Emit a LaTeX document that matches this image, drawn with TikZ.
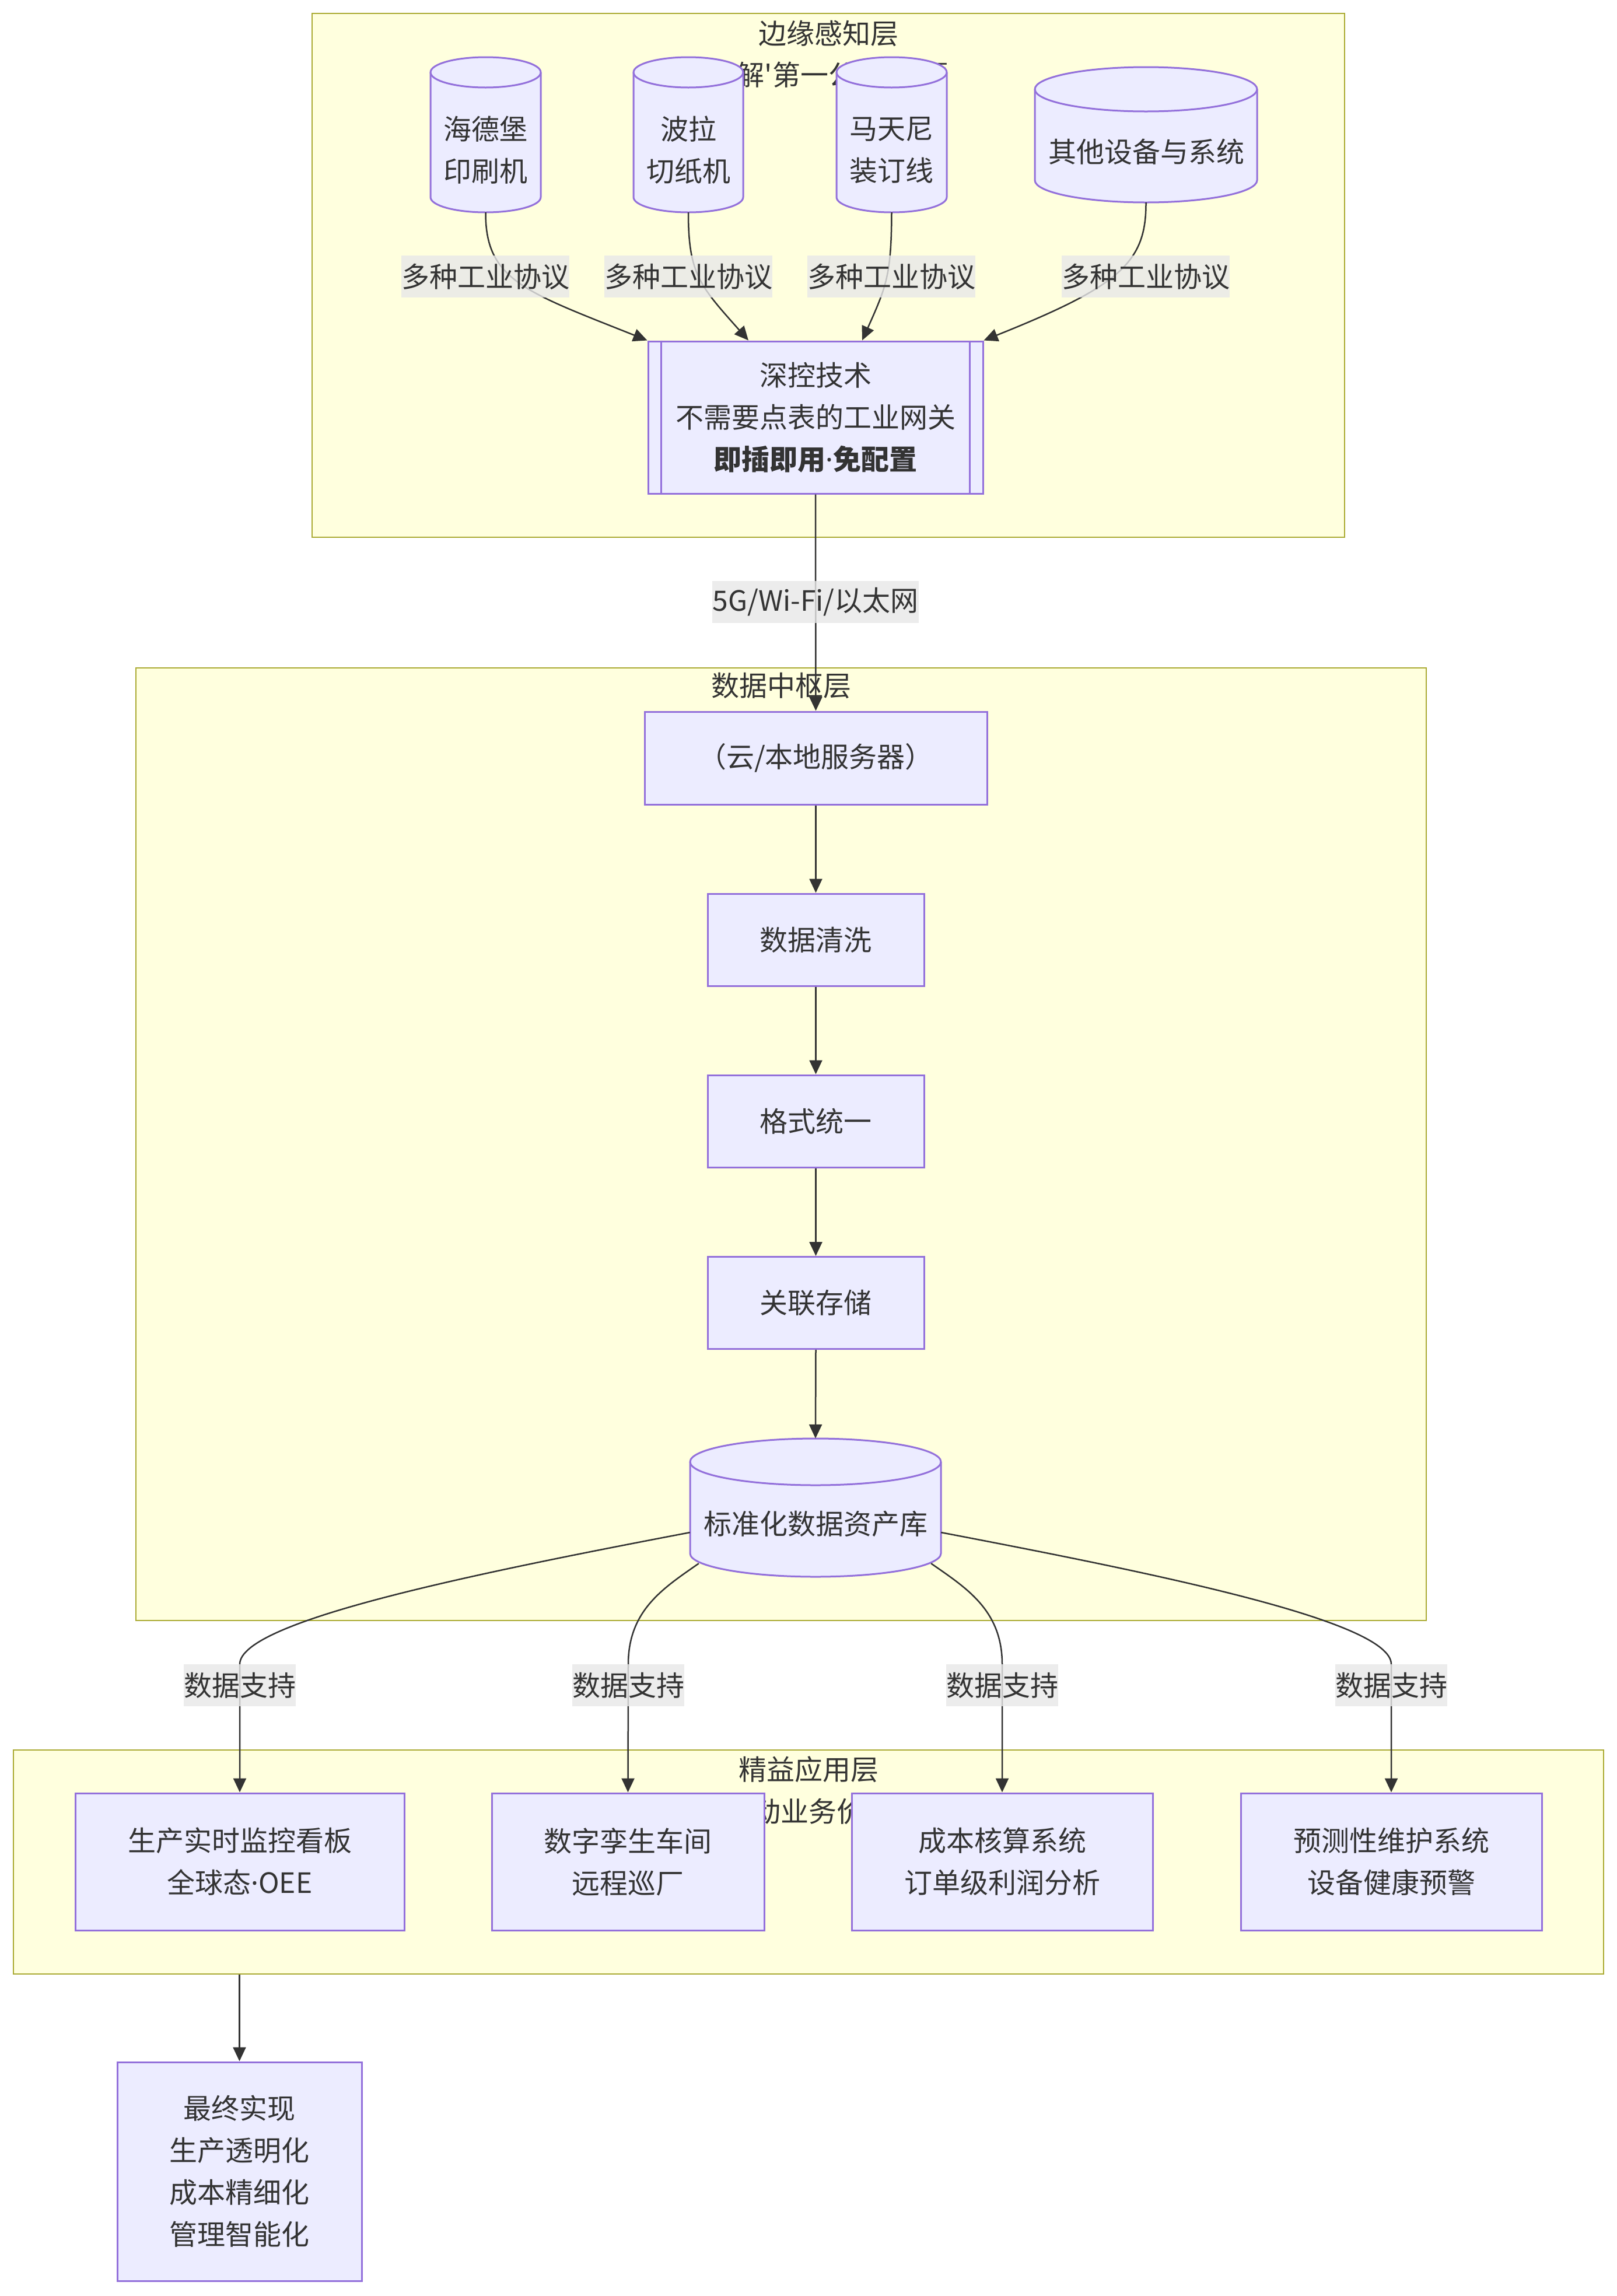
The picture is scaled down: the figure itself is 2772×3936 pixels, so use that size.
\documentclass[tikz,border=0pt]{standalone}
\usepackage{fontspec}
\setmainfont{Noto Sans CJK SC}
\newfontfamily\cjk{Noto Sans CJK SC}
\newfontfamily\latinf{Noto Sans}
\newcommand\mdot{{\latinf ·}}
\usetikzlibrary{arrows.meta,calc}
\definecolor{nodefill}{HTML}{ECECFF}
\definecolor{nodeline}{HTML}{9370DB}
\definecolor{clfill}{HTML}{FFFFDE}
\definecolor{clline}{HTML}{AAAA33}
\definecolor{ink}{HTML}{333333}
\definecolor{lblbg}{HTML}{E8E8E8}
\tikzset{
  txt/.style={font=\cjk\fontsize{48}{72}\selectfont, text=ink, align=center, inner sep=0pt},
  cluster/.style={draw=clline, fill=clfill, line width=2.5pt, inner sep=0pt},
  box/.style={txt, draw=nodeline, fill=nodefill, line width=3pt},
  lbl/.style={txt, fill=lblbg, fill opacity=0.8, text opacity=1, minimum height=72pt},
  edge/.style={draw=ink, line width=2.5pt, -{Triangle[length=24pt,width=22pt]}},
}
\newcommand\dbcyl[6]{%
  \filldraw[draw=nodeline, fill=nodefill, line width=3pt]
    (#2,-#4-#6) -- (#2,-#5+#6)
    arc[start angle=180, end angle=360, x radius={(#3-#2)/2}, y radius=#6]
    -- (#3,-#4-#6)
    arc[start angle=0, end angle=180, x radius={(#3-#2)/2}, y radius=#6] -- cycle;
  \draw[draw=nodeline, line width=3pt] (#2,-#4-#6)
    arc[start angle=180, end angle=360, x radius={(#3-#2)/2}, y radius=#6];
  \node[inner sep=0pt, minimum width={(#3-#2)*1pt}, minimum height={(#5-#4)*1pt}] (#1) at ({(#2+#3)/2},{-(#4+#5)/2}) {};
}
\begin{document}
\begin{tikzpicture}[x=1pt,y=1pt]
\fill[white] (0,0) rectangle (2772,-3936);
\useasboundingbox (0,0) rectangle (2772,-3936);

% clusters
\node[cluster, minimum width=1770pt, minimum height=898pt] (C1) at (1420,-472) {};
\node[cluster, minimum width=2212pt, minimum height=1633pt] (C2) at (1339,-1961.5) {};
\node[cluster, minimum width=2726pt, minimum height=384pt] (C3) at (1386,-3192) {};

% cluster titles
\node[txt] (t1) at (1420,-57) {边缘感知层};
\node[txt] (s1) at (1420,-128) {破解'第一公里'难题};
\node[txt] (t2) at (1339,-1175) {数据中枢层};
\node[txt] (t3) at (1386,-3033) {精益应用层};
\node[txt] (s3) at (1386,-3105) {驱动业务价值};

% edge layer: devices
\dbcyl{c1}{738}{927}{98}{364}{26}
\dbcyl{c2}{1086}{1274}{98}{364}{26}
\dbcyl{c3}{1434}{1623}{98}{364}{26}
\dbcyl{c4}{1774}{2155}{115}{347}{38}
\node[txt] (c1t) at (832,-257.5) {海德堡\\印刷机};
\node[txt] (c2t) at (1180,-257.5) {波拉\\切纸机};
\node[txt] (c3t) at (1528,-257.5) {马天尼\\装订线};
\node[txt] (c4t) at (1965,-260) {其他设备与系统};

\node[box, minimum width=574pt, minimum height=261pt] (gw) at (1398,-715.5)
  {深控技术\\不需要点表的工业网关\\\textbf{即插即用{\bfseries\mdot}免配置}};
\draw[nodeline, line width=3pt] ([xshift=24pt]gw.north west) -- ([xshift=24pt]gw.south west);
\draw[nodeline, line width=3pt] ([xshift=-24pt]gw.north east) -- ([xshift=-24pt]gw.south east);

% data hub
\node[box, minimum width=587pt, minimum height=159pt] (srv) at (1398.5,-1299.5) {（云/本地服务器）};
\node[box, minimum width=371pt, minimum height=158pt] (clean) at (1398.5,-1611) {数据清洗};
\node[box, minimum width=371pt, minimum height=158pt] (fmt) at (1398.5,-1922) {格式统一};
\node[box, minimum width=371pt, minimum height=158pt] (store) at (1398.5,-2233.5) {关联存储};
\dbcyl{db}{1183}{1613}{2466}{2703}{40}
\node[txt] (dbt) at (1398,-2612) {标准化数据资产库};

% applications
\node[box, minimum width=564pt, minimum height=235pt] (a1) at (411,-3191.5) {生产实时监控看板\\全球态\mdot OEE};
\node[box, minimum width=467pt, minimum height=235pt] (a2) at (1076.5,-3191.5) {数字孪生车间\\远程巡厂};
\node[box, minimum width=516pt, minimum height=235pt] (a3) at (1718,-3191.5) {成本核算系统\\订单级利润分析};
\node[box, minimum width=516pt, minimum height=235pt] (a4) at (2385,-3191.5) {预测性维护系统\\设备健康预警};

\node[box, minimum width=419pt, minimum height=375pt] (fin) at (410.5,-3722.5)
  {最终实现\\生产透明化\\成本精细化\\管理智能化};

% connectors
\draw[edge] (c1.south) .. controls (832,-480) and (900,-500) .. (gw.north west);
\draw[edge] (c2.south) .. controls (1180,-470) and (1200,-490) .. ([xshift=-115pt]gw.north);
\draw[edge] (c3.south) .. controls (1528,-470) and (1520,-490) .. ([xshift=80pt]gw.north);
\draw[edge] (c4.south) .. controls (1965,-450) and (1920,-490) .. (gw.north east);
\draw[edge] (gw.south) -- (srv.north);
\draw[edge] (srv.south) -- (clean.north);
\draw[edge] (clean.south) -- (fmt.north);
\draw[edge] (fmt.south) -- (store.north);
\draw[edge] (store.south) -- (db.north);
\draw[edge] ([yshift=-42.5pt]db.west) .. controls (800,-2700) and (411,-2780) .. (411,-2853) -- (a1.north);
\draw[edge] ([xshift=15pt,yshift=23pt]db.south west) .. controls (1138,-2722) and (1077,-2760) .. (1077,-2853) -- (a2.north);
\draw[edge] ([xshift=-17pt,yshift=23pt]db.south east) .. controls (1656,-2722) and (1718,-2760) .. (1718,-2853) -- (a3.north);
\draw[edge] ([yshift=-42.5pt]db.east) .. controls (1995,-2700) and (2385,-2780) .. (2385,-2853) -- (a4.north);
\draw[edge] (C3.south -| fin.north) -- (fin.north);

% connector labels
\node[lbl] (l1) at (832,-474) {多种工业协议};
\node[lbl] (l2) at (1180,-474) {多种工业协议};
\node[lbl] (l3) at (1528,-474) {多种工业协议};
\node[lbl] (l4) at (1964,-474) {多种工业协议};
\node[lbl] (l5) at (1398,-1032) {5G/Wi-Fi/以太网};
\node[lbl] (l6) at (411,-2889) {数据支持};
\node[lbl] (l7) at (1077,-2889) {数据支持};
\node[lbl] (l8) at (1718,-2889) {数据支持};
\node[lbl] (l9) at (2385,-2889) {数据支持};
\end{tikzpicture}
\end{document}
